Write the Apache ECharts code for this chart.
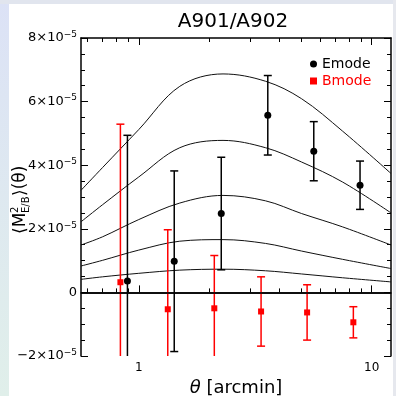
<!DOCTYPE html>
<html>
<head>
<meta charset="utf-8">
<script src="https://cdn.jsdelivr.net/npm/echarts@6/dist/echarts.min.js"></script>
<style>
  html, body { margin: 0; padding: 0; background: #fff; }
  #chart { width: 396px; height: 396px; }
</style>
</head>
<body>
<div id="chart"></div>
<script>
// Aperture-mass E/B statistics for A901/A902, values in units of 1e-5
const thetaE = [0.894, 1.42, 2.26, 3.58, 5.64, 8.91];
const emode = [0.36, 0.98, 2.48, 5.57, 4.44, 3.37];
const emodeErr = [4.58, 2.84, 1.77, 1.25, 0.93, 0.76];

const thetaB = [0.834, 1.332, 2.11, 3.35, 5.28, 8.34];
const bmode = [0.32, -0.53, -0.50, -0.60, -0.63, -0.94];
const bmodeErr = [4.97, 2.50, 1.66, 1.09, 0.87, 0.49];

// model curves sampled in theta [arcmin]
const modelTheta = [0.565, 0.7, 1, 1.5, 2.3, 3.5, 5, 7.5, 12.1];
const model1 = [3.21, 3.93, 5.12, 6.48, 6.87, 6.64, 6.09, 5.07, 3.74];
const model2 = [2.22, 2.76, 3.63, 4.55, 4.78, 4.55, 4.10, 3.47, 2.50];
const model3 = [1.49, 1.75, 2.29, 2.81, 3.05, 2.88, 2.48, 2.06, 1.49];
const model4 = [0.83, 1.01, 1.33, 1.61, 1.66, 1.54, 1.30, 1.04, 0.75];
const model5 = [0.41, 0.49, 0.60, 0.70, 0.73, 0.68, 0.58, 0.46, 0.33];
const models = [model1, model2, model3, model4, model5];

const xMajorTicks = [1, 10];
const xMinorTicks = [0.6, 0.7, 0.8, 0.9, 2, 3, 4, 5, 6, 7, 8, 9];
const xRange = [0.565, 12.1];
const yRange = [-2, 8];
const yStep = 2;

const FONT = 'DejaVu Sans';
const chart = echarts.init(document.getElementById('chart'), null, { renderer: 'canvas' });

function xAxisDef(position, ticks, tickLen, showLine, showLabels) {
  return {
    type: 'log', logBase: 10, position,
    min: xRange[0], max: xRange[1],
    axisLine: { show: showLine, lineStyle: { color: '#000', width: 1.5 } },
    axisTick: { show: true, inside: true, length: tickLen, customValues: ticks,
      lineStyle: { color: '#000', width: 1 } },
    axisLabel: { show: showLabels, customValues: ticks, margin: 6,
      color: '#000', fontFamily: FONT, fontSize: 12 },
    splitLine: { show: false }
  };
}

function yAxisDef(position, showLabels) {
  return {
    type: 'value', position,
    min: yRange[0], max: yRange[1], interval: yStep,
    axisLine: { show: true, lineStyle: { color: '#000', width: 1.5 } },
    axisTick: { show: true, inside: true, length: 7, lineStyle: { color: '#000', width: 1 } },
    minorTick: { show: true, splitNumber: 4, length: 4, lineStyle: { color: '#000', width: 1 } },
    splitLine: { show: false },
    axisLabel: {
      show: showLabels, margin: 4, color: '#000', fontFamily: FONT,
      formatter: v => v === 0 ? '{b|0}' : `{b|${v < 0 ? '\u2212' : ''}${Math.abs(v)}\u00d710}{s|\u22125}`,
      rich: {
        b: { fontSize: 13, fontFamily: FONT, color: '#000', lineHeight: 16 },
        s: { fontSize: 9, fontFamily: FONT, color: '#000', verticalAlign: 'top', lineHeight: 9 }
      }
    }
  };
}

function errorBars(name, xs, ys, errs, color) {
  return {
    type: 'custom', name, z: 3,
    data: xs.map((x, i) => [x, ys[i] - errs[i], ys[i] + errs[i]]),
    encode: { x: 0, y: [1, 2] },
    renderItem(params, api) {
      const cs = params.coordSys;
      const hi = api.coord([api.value(0), api.value(2)]);
      const lo = api.coord([api.value(0), api.value(1)]);
      const x = hi[0];
      const top = Math.max(hi[1], cs.y);
      const bot = Math.min(lo[1], cs.y + cs.height);
      const half = 4;
      const style = { stroke: color, lineWidth: 1.5 };
      const kids = [{ type: 'line', shape: { x1: x, y1: top, x2: x, y2: bot }, style }];
      if (hi[1] >= cs.y) kids.push({ type: 'line', shape: { x1: x - half, y1: hi[1], x2: x + half, y2: hi[1] }, style });
      if (lo[1] <= cs.y + cs.height) kids.push({ type: 'line', shape: { x1: x - half, y1: lo[1], x2: x + half, y2: lo[1] }, style });
      return { type: 'group', children: kids };
    }
  };
}

const modelSeries = models.map((m, k) => ({
  type: 'line', name: 'model' + (k + 1), smooth: 0.35, showSymbol: false, z: 1,
  lineStyle: { color: '#111', width: 1 },
  data: modelTheta.map((t, i) => [t, m[i]]),
  markLine: k === 0 ? {
    silent: true, symbol: 'none', label: { show: false },
    lineStyle: { color: '#000', width: 1.5, type: 'solid' },
    data: [{ yAxis: 0 }]
  } : undefined
}));

const option = {
  backgroundColor: '#fff',
  animation: false,
  title: {
    text: 'A901/A902', left: 228, top: 7, textAlign: 'center',
    textStyle: { fontFamily: FONT, fontSize: 20, fontWeight: 'normal', color: '#000' }
  },
  legend: {
    orient: 'vertical', left: 305, top: 52, itemWidth: 7, itemHeight: 7, itemGap: 3,
    textStyle: { fontFamily: FONT, fontSize: 14 },
    data: [
      { name: 'Emode', icon: 'circle', textStyle: { color: '#000' } },
      { name: 'Bmode', icon: 'rect', textStyle: { color: '#ff0000' } }
    ]
  },
  grid: { left: 81, right: 5, top: 38, bottom: 40, outerBoundsMode: 'none', containLabel: false },
  xAxis: [
    Object.assign(xAxisDef('bottom', xMajorTicks, 7, true, true), {
      name: '{t|\u03b8} [arcmin]', nameLocation: 'middle', nameGap: 21,
      nameTextStyle: { fontFamily: FONT, fontSize: 18, color: '#000',
        rich: { t: { fontFamily: FONT, fontSize: 18, fontStyle: 'italic', color: '#000' } } }
    }),
    xAxisDef('bottom', xMinorTicks, 4, false, false),
    xAxisDef('top', xMajorTicks, 7, true, false),
    xAxisDef('top', xMinorTicks, 4, false, false)
  ],
  yAxis: [yAxisDef('left', true), yAxisDef('right', false)],
  graphic: [
    { type: 'rect', left: 0, top: 0, shape: { width: 9, height: 396 }, z: -10,
      style: { fill: new echarts.graphic.LinearGradient(0, 0, 0, 1, [
        { offset: 0, color: '#dce2f6' }, { offset: 1, color: '#e0efea' }]) } },
    { type: 'rect', left: 0, top: 0, shape: { width: 396, height: 4 }, z: -10,
      style: { fill: '#e1e5ee' } },
    { type: 'rect', right: 0, top: 0, shape: { width: 3, height: 396 }, z: -10,
      style: { fill: '#e6e8ee' } },
    {
      type: 'group', x: 21, y: 234, rotation: Math.PI / 2,
      children: [
        { type: 'text', x: 0, y: 0, style: { text: '\u27e8M', font: `17px "${FONT}"`, fill: '#000', verticalAlign: 'middle' } },
        { type: 'text', x: 21, y: -6, style: { text: '2', font: `10px "${FONT}"`, fill: '#000', verticalAlign: 'middle' } },
        { type: 'text', x: 21, y: 5, style: { text: 'E/B', font: `10px "${FONT}"`, fill: '#000', verticalAlign: 'middle' } },
        { type: 'text', x: 38, y: 0, style: { text: '\u27e9(\u03b8)', font: `17px "${FONT}"`, fill: '#000', verticalAlign: 'middle' } }
      ]
    }
  ],
  series: [
    ...modelSeries,
    errorBars('Emode error', thetaE, emode, emodeErr, '#000'),
    errorBars('Bmode error', thetaB, bmode, bmodeErr, '#ff0000'),
    { type: 'scatter', name: 'Emode', symbol: 'circle', symbolSize: 7, z: 4,
      itemStyle: { color: '#000', opacity: 1 }, data: thetaE.map((t, i) => [t, emode[i]]) },
    { type: 'scatter', name: 'Bmode', symbol: 'rect', symbolSize: 6, z: 4,
      itemStyle: { color: '#ff0000', opacity: 1 }, data: thetaB.map((t, i) => [t, bmode[i]]) }
  ]
};
chart.setOption(option);
</script>
</body>
</html>
